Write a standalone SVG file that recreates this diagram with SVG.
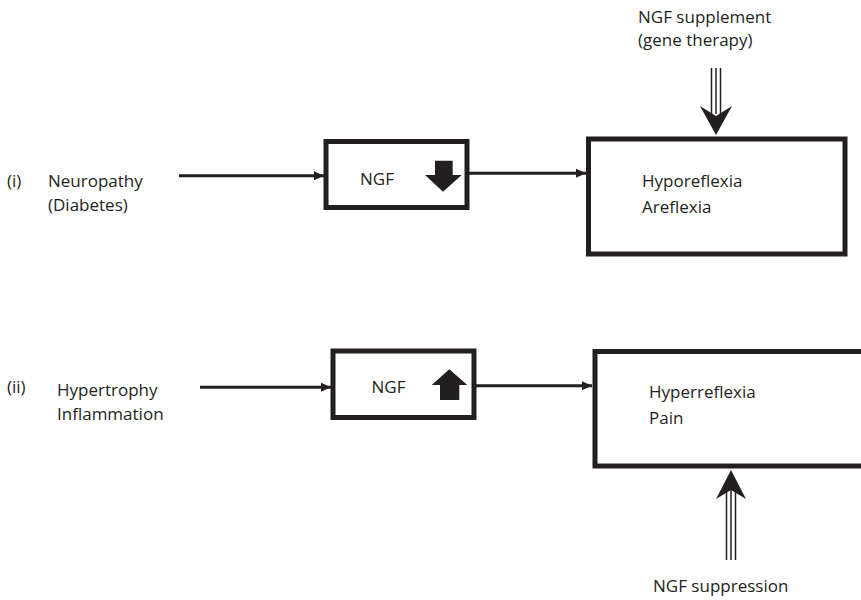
<svg xmlns="http://www.w3.org/2000/svg" width="861" height="600" viewBox="0 0 861 600">
<defs>
<style>
text{font-family:"Open Sans","Noto Sans","Liberation Sans",sans-serif;font-size:17px;fill:#231f20}
.box{fill:#fff;stroke:#231f20;stroke-width:5}
.conn{stroke:#231f20;stroke-width:3;fill:none}
.tri{stroke:#231f20;stroke-width:1.5;fill:none}
.head{fill:#231f20}
</style>
<marker id="ah" markerUnits="userSpaceOnUse" markerWidth="12" markerHeight="12" refX="10" refY="5" orient="auto">
<path d="M0,0.5 L10,5 L0,9.5 Z" fill="#231f20"/>
</marker>
</defs>
<rect width="861" height="600" fill="#fff"/>

<g id="connectors">
<line class="conn" x1="179" y1="175.7" x2="324" y2="175.7" marker-end="url(#ah)"/>
<line class="conn" x1="469" y1="173.3" x2="586" y2="173.3" marker-end="url(#ah)"/>
<line class="conn" x1="200" y1="387.3" x2="331" y2="387.3" marker-end="url(#ah)"/>
<line class="conn" x1="476" y1="385.7" x2="592" y2="385.7" marker-end="url(#ah)"/>
<g id="supplement-arrow">
<line class="tri" x1="711.5" y1="68" x2="711.5" y2="114"/>
<line class="tri" x1="716" y1="68" x2="716" y2="114"/>
<line class="tri" x1="720.5" y1="68" x2="720.5" y2="114"/>
<path class="head" d="M700,106 L716,135 L732,106 L716,116 Z"/>
</g>
<g id="suppression-arrow">
<line class="tri" x1="726.5" y1="488" x2="726.5" y2="560"/>
<line class="tri" x1="731" y1="488" x2="731" y2="560"/>
<line class="tri" x1="735.5" y1="488" x2="735.5" y2="560"/>
<path class="head" d="M731,470 L716,499 L731,490 L746,499 Z"/>
</g>
</g>

<g id="label-i"><text x="7" y="187">(i)</text></g>
<g id="cause-i"><text x="48" y="187">Neuropathy</text><text x="48" y="211">(Diabetes)</text></g>
<g id="ngf-i">
<rect class="box" x="326" y="141.5" width="141" height="66"/>
<text x="360" y="185">NGF</text>
<path class="head" d="M435,160.7 H452.7 V175 H461.7 L443,191.7 L425,175 H435 Z"/>
</g>
<g id="effect-i">
<rect class="box" x="588.5" y="139" width="256.5" height="115"/>
<text x="642" y="187">Hyporeflexia</text>
<text x="642" y="213">Areflexia</text>
</g>
<g id="supplement"><text x="638" y="23">NGF supplement</text><text x="638" y="46">(gene therapy)</text></g>

<g id="label-ii"><text x="7" y="393">(ii)</text></g>
<g id="cause-ii"><text x="57" y="396">Hypertrophy</text><text x="57" y="420">Inflammation</text></g>
<g id="ngf-ii">
<rect class="box" x="333" y="351" width="141" height="66.5"/>
<text x="371.5" y="393">NGF</text>
<path class="head" d="M449.3,369.3 L467.3,385 H459.3 V400 H440 V385 H431.7 Z"/>
</g>
<g id="effect-ii">
<rect class="box" x="595" y="351.5" width="300" height="114.5"/>
<text x="649" y="398">Hyperreflexia</text>
<text x="649" y="424">Pain</text>
</g>
<g id="suppression"><text x="653" y="592">NGF suppression</text></g>
</svg>
